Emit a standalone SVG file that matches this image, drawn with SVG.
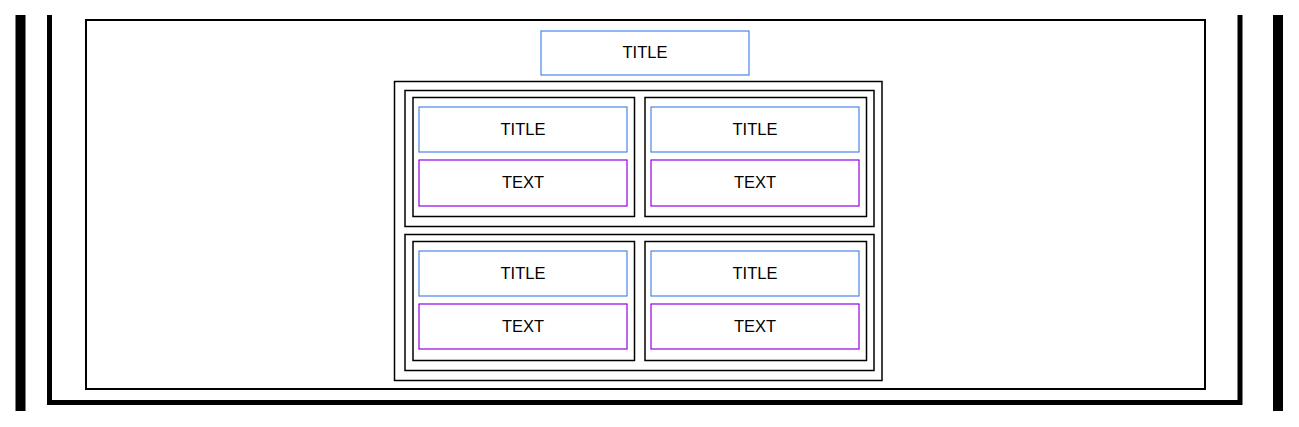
<svg xmlns="http://www.w3.org/2000/svg" width="1299" height="427" viewBox="0 0 1299 427">
<style>
.frame{fill:none;stroke:#000}
.t{fill:#fff;stroke:#4a86e8;stroke-width:1.2}
.x{fill:#fff;stroke:#8f00e8;stroke-width:1.2}
.c{fill:#fff;stroke:#000;stroke-width:1.5}
text{font-family:"Liberation Sans",Arial,sans-serif;font-size:16.5px;fill:#000;text-anchor:middle;dominant-baseline:central}
</style>
<rect width="1299" height="427" fill="#fff"/>
<g id="walls">
<line x1="20.5" y1="15" x2="20.5" y2="411" stroke="#000" stroke-width="10"/>
<line x1="1278" y1="15" x2="1278" y2="411" stroke="#000" stroke-width="10"/>
<path d="M49.5 15 V402.5 H1240 V15" class="frame" stroke-width="5"/>
</g>
<g id="panel">
<rect x="86" y="20" width="1119" height="369" class="frame" stroke-width="2"/>
</g>
<g id="main-title">
<rect x="541" y="31" width="208" height="44" class="t"/>
<text x="645" y="52">TITLE</text>
</g>
<g id="container">
<rect x="394.5" y="81.5" width="487.5" height="299" class="c"/>
</g>
<g id="row1">
<rect x="405" y="90.5" width="469" height="136" class="c"/>
</g>
<g id="row2">
<rect x="405" y="234.5" width="469" height="136" class="c"/>
</g>
<g id="card-1-1">
<rect x="413" y="97.5" width="221.5" height="119" class="c"/>
<rect x="419" y="107" width="208" height="45" class="t"/>
<text x="523" y="128.5">TITLE</text>
<rect x="419" y="160" width="208" height="46" class="x"/>
<text x="523" y="182">TEXT</text>
</g>
<g id="card-1-2">
<rect x="645" y="97.5" width="221.5" height="119" class="c"/>
<rect x="651" y="107" width="208" height="45" class="t"/>
<text x="755" y="128.5">TITLE</text>
<rect x="651" y="160" width="208" height="46" class="x"/>
<text x="755" y="182">TEXT</text>
</g>
<g id="card-2-1">
<rect x="413" y="241.5" width="221.5" height="119" class="c"/>
<rect x="419" y="251" width="208" height="45" class="t"/>
<text x="523" y="272.5">TITLE</text>
<rect x="419" y="304" width="208" height="45" class="x"/>
<text x="523" y="325.5">TEXT</text>
</g>
<g id="card-2-2">
<rect x="645" y="241.5" width="221.5" height="119" class="c"/>
<rect x="651" y="251" width="208" height="45" class="t"/>
<text x="755" y="272.5">TITLE</text>
<rect x="651" y="304" width="208" height="45" class="x"/>
<text x="755" y="325.5">TEXT</text>
</g>
<g id="connectors"></g>
</svg>
